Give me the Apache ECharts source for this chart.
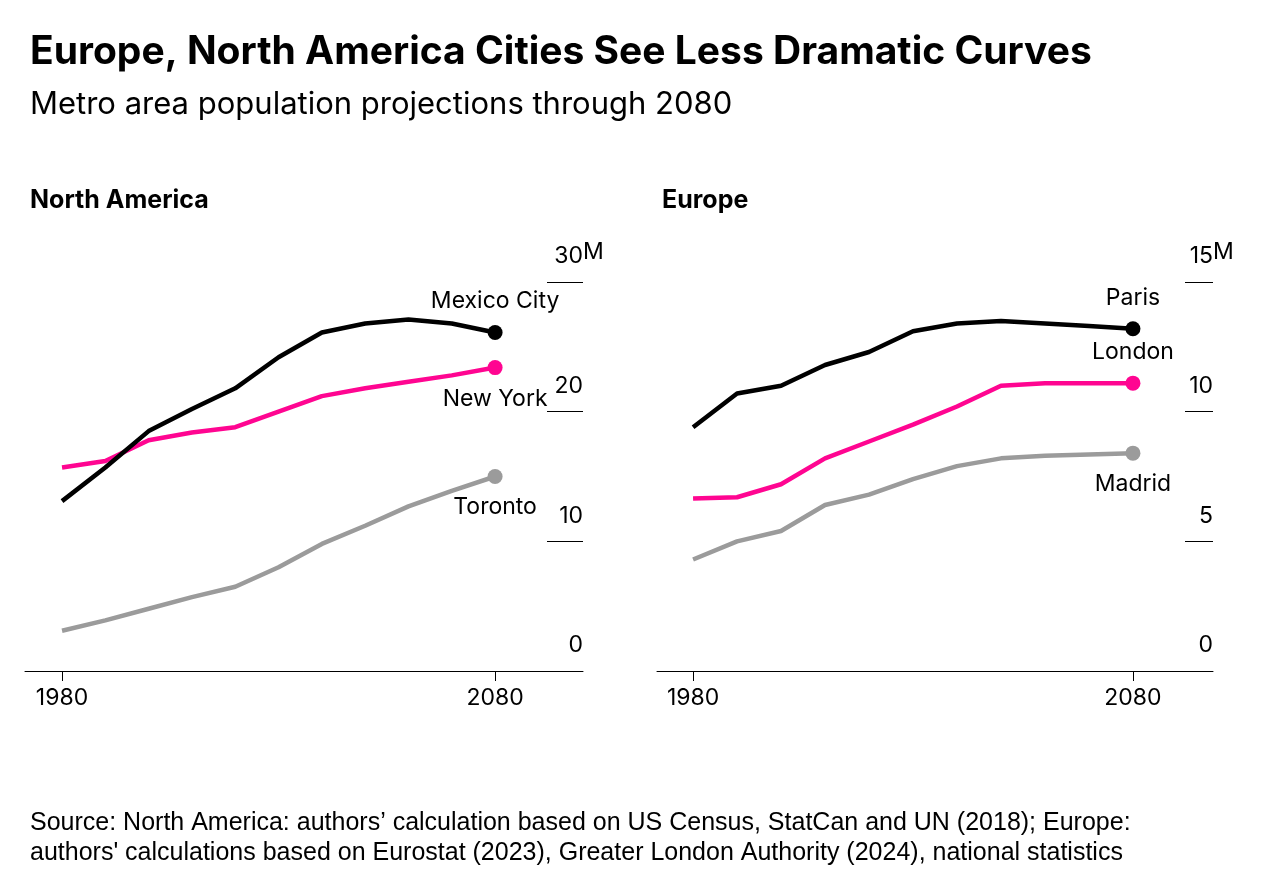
<!DOCTYPE html>
<html><head><meta charset="utf-8">
<script src="https://cdn.jsdelivr.net/npm/echarts@6/dist/echarts.min.js"></script>
<style>html,body{margin:0;background:#fff}#c{width:1266px;height:878px}</style>
</head><body><div id="c"></div>
<script>
const years=[1980,1990,2000,2010,2020,2030,2040,2050,2060,2070,2080];
const mexicoCity=[13.1,15.7,18.5,20.2,21.8,24.2,26.1,26.8,27.1,26.8,26.1];
const newYork=[15.7,16.2,17.8,18.4,18.8,20.0,21.2,21.8,22.3,22.8,23.4];
const toronto=[3.1,3.9,4.8,5.7,6.5,8.0,9.8,11.2,12.7,13.9,15.0];
const paris=[9.4,10.7,11.0,11.8,12.3,13.1,13.4,13.5,13.4,13.3,13.2];
const london=[6.65,6.7,7.2,8.2,8.85,9.5,10.2,11.0,11.1,11.1,11.1];
const madrid=[4.3,5.0,5.4,6.4,6.8,7.4,7.9,8.2,8.3,8.35,8.4];
const naTicks=[10,20,30], euTicks=[5,10,15];
const F='Inter, "Liberation Sans", sans-serif';
const BLACK='#000',PINK='#ff0591',GRAY='#9b9b9b';
function mk(name,vals,color,gi,pos){
  const d=years.map((y,i)=>[y,vals[i]]);
  d[d.length-1]={value:d[d.length-1],symbol:'circle',symbolSize:15,
    label:{show:true,position:pos,distance:12,formatter:name,color:'#000',fontSize:23,fontFamily:F}};
  return {type:'line',xAxisIndex:gi,yAxisIndex:gi,data:d,showSymbol:true,symbol:'none',
    lineStyle:{color,width:4.5},itemStyle:{color},silent:true,z:3};
}
function xa(gi,min,max){return {type:'value',gridIndex:gi,min,max,
  axisLine:{show:true,lineStyle:{color:'#000',width:1}},axisTick:{show:true,customValues:[1980,2080],length:10,lineStyle:{color:'#000'}},
  axisLabel:{customValues:[1980,2080],formatter:v=>String(v),color:'#000',fontSize:23,fontFamily:F,margin:16},splitLine:{show:false}};}
function ya(gi,max,ticks,len){return {type:'value',gridIndex:gi,min:0,max,position:'right',
  axisLine:{show:false},axisTick:{show:true,inside:true,length:len,customValues:ticks,lineStyle:{color:'#000',width:1}},
  axisLabel:{inside:true,customValues:[0].concat(ticks),align:'right',verticalAlign:'bottom',margin:0,padding:[0,0,14,0],
    color:'#000',fontSize:23,fontFamily:F,formatter:v=>String(v)},splitLine:{show:false}};}
const chart=echarts.init(document.getElementById('c'));
chart.setOption({
  animation:false,backgroundColor:'#fff',
  title:[
    {text:'Europe, North America Cities See Less Dramatic Curves',left:25,top:28,textStyle:{fontSize:39,fontWeight:'bold',fontFamily:F,color:'#000'}},
    {text:'Metro area population projections through 2080',left:25,top:84,textStyle:{fontSize:31,fontWeight:'normal',fontFamily:F,color:'#000'}},
    {text:'North America',left:25,top:183,textStyle:{fontSize:25,fontWeight:'bold',fontFamily:F,color:'#000'}},
    {text:'Europe',left:657,top:183,textStyle:{fontSize:25,fontWeight:'bold',fontFamily:F,color:'#000'}},
    {text:'Source: North America: authors’ calculation based on US Census, StatCan and UN (2018); Europe:\nauthors\' calculations based on Eurostat (2023), Greater London Authority (2024), national statistics',
     left:25,top:803,textStyle:{fontSize:25,fontWeight:'normal',fontFamily:'"Liberation Sans", Arial, sans-serif',color:'#000',lineHeight:30}}
  ],
  graphic:[
    {type:'text',left:583,top:241,style:{text:'M',fontSize:23,fontFamily:F,fill:'#000'}},
    {type:'text',left:1213,top:241,style:{text:'M',fontSize:23,fontFamily:F,fill:'#000'}}
  ],
  grid:[{left:25,width:558,top:282,height:389},{left:657,width:556,top:282,height:389}],
  xAxis:[xa(0,1971.45,2100.3),xa(1,1971.8,2098.2)],
  yAxis:[ya(0,30,naTicks,36),ya(1,15,euTicks,28)],
  series:[
    mk('Toronto',toronto,GRAY,0,'bottom'),
    mk('New York',newYork,PINK,0,'bottom'),
    mk('Mexico City',mexicoCity,BLACK,0,'top'),
    mk('Madrid',madrid,GRAY,1,'bottom'),
    mk('London',london,PINK,1,'top'),
    mk('Paris',paris,BLACK,1,'top')
  ]
});
</script></body></html>
